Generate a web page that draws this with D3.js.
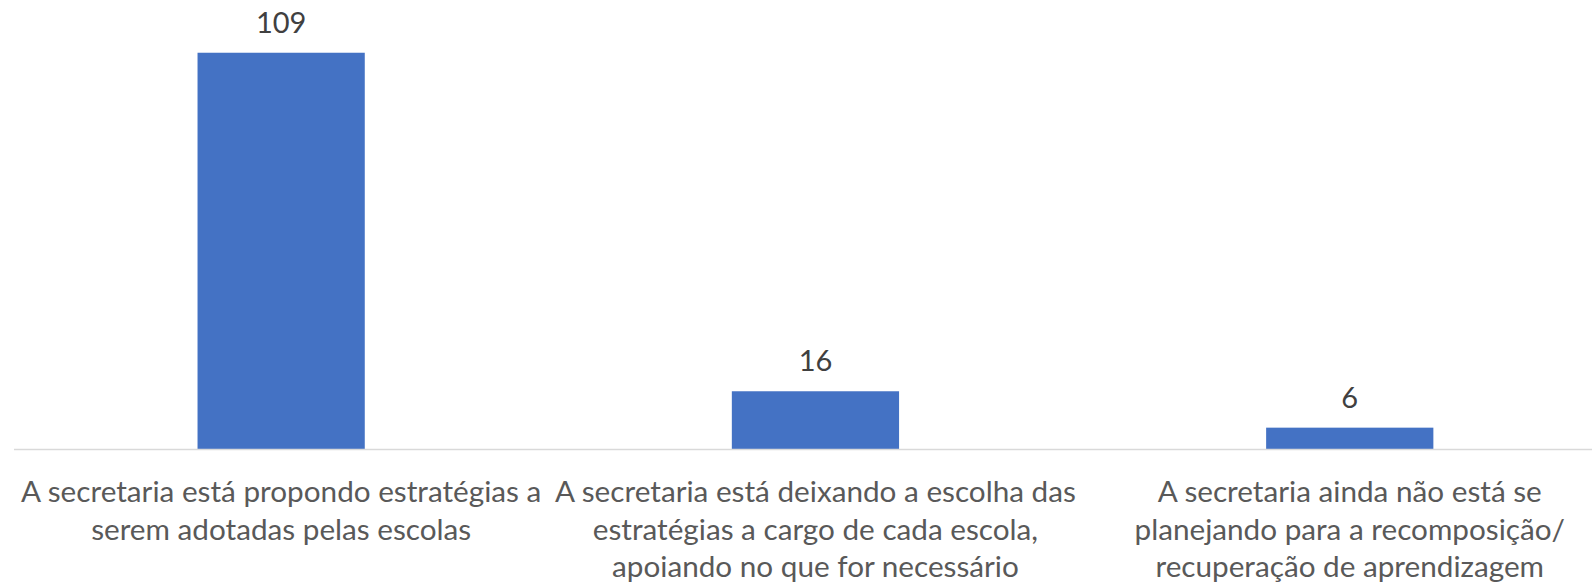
<!DOCTYPE html>
<html>
<head>
<meta charset="utf-8">
<script src="https://cdn.jsdelivr.net/npm/d3@7"></script>
<style>
  body { margin: 0; background: #fff; }
  svg { display: block; }
</style>
</head>
<body>
<div id="chart"></div>
<script>
// chart values
const categories = ["cat1", "cat2", "cat3"];
const values = [109, 16, 6];
const categoryLines = [
  ["A secretaria está propondo estratégias a", "serem adotadas pelas escolas"],
  ["A secretaria está deixando a escolha das", "estratégias a cargo de cada escola,", "apoiando no que for necessário"],
  ["A secretaria ainda não está se", "planejando para a recomposição/", "recuperação de aprendizagem"]
];

const width = 1592;
const height = 585;
const fontFamily = "Lato, 'Open Sans', sans-serif";

const svg = d3.select("#chart")
              .append("svg")
              .attr("width", width)
              .attr("height", height);

const x = d3.scaleBand()
            .domain(categories)
            .range([14, 14 + 3 * 534.3])
            .paddingInner(0.687)
            .paddingOuter(0.687 / 2);

const y = d3.scaleLinear()
            .domain([0, 120])
            .range([449.5, 12.7]);

// bars
svg.append("g")
   .selectAll("rect")
   .data(values)
   .enter()
   .append("rect")
   .attr("x", (d, i) => x(categories[i]))
   .attr("y", d => y(d))
   .attr("width", x.bandwidth())
   .attr("height", d => y(0) - y(d))
   .attr("fill", "#4472C4");

// baseline axis
svg.append("line")
   .attr("x1", 14)
   .attr("x2", width)
   .attr("y1", y(0))
   .attr("y2", y(0))
   .attr("stroke", "#D9D9D9")
   .attr("stroke-width", 1.5);

// value labels
svg.append("g")
   .selectAll("text")
   .data(values)
   .enter()
   .append("text")
   .attr("x", (d, i) => x(categories[i]) + x.bandwidth() / 2)
   .attr("y", d => y(d) - 20)
   .attr("text-anchor", "middle")
   .attr("font-family", fontFamily)
   .attr("font-size", 29)
   .attr("fill", "#404040")
   .text(d => d);

// category labels
const labels = svg.append("g")
   .selectAll("text")
   .data(categoryLines)
   .enter()
   .append("text")
   .attr("text-anchor", "middle")
   .attr("font-family", fontFamily)
   .attr("font-size", 29.7)
   .attr("fill", "#595959");

labels.each(function(lines, i) {
  const cx = x(categories[i]) + x.bandwidth() / 2;
  d3.select(this)
    .selectAll("tspan")
    .data(lines)
    .enter()
    .append("tspan")
    .attr("x", cx)
    .attr("y", (d, j) => 502 + j * 37.5)
    .text(d => d);
});
</script>
</body>
</html>
